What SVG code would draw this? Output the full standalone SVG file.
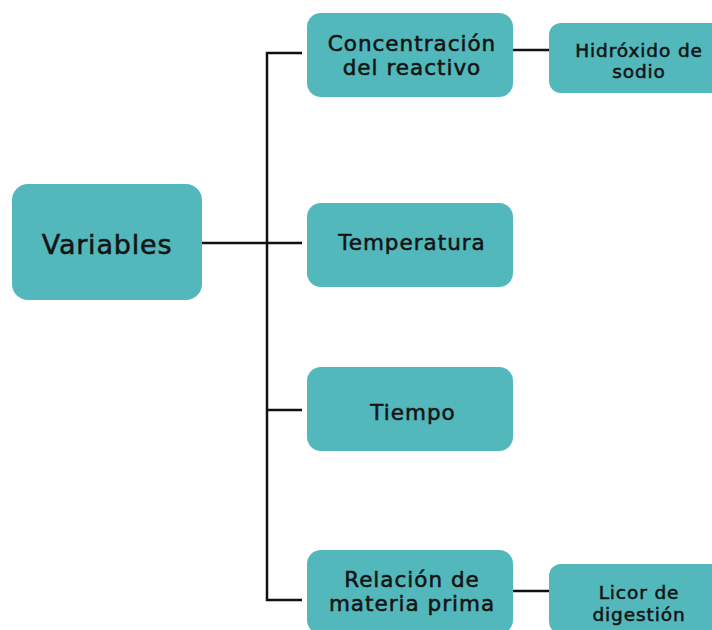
<svg xmlns="http://www.w3.org/2000/svg" width="712" height="630" viewBox="0 0 712 630">
<style>
.box{fill:#52B8BB;}
.t{font-family:"DejaVu Sans","Noto Sans",sans-serif;fill:#141414;stroke:#141414;stroke-width:0.55px;text-anchor:middle;}
.m{font-size:21.5px;letter-spacing:1px;}
.s{font-size:18.5px;letter-spacing:0.9px;}
.c{stroke:#111;stroke-width:2.5;fill:none;}
</style>
<rect width="712" height="630" fill="#fff"/>
<g id="connectors">
<path class="c" d="M202 243H302"/>
<path class="c" d="M302 53H267V600H302"/>
<path class="c" d="M267 410H302"/>
<path class="c" d="M513 50H549"/>
<path class="c" d="M513 591H549"/>
</g>
<g id="variables">
<rect class="box" x="12" y="184" width="190" height="116" rx="16"/>
<text class="t" x="107" y="254" font-size="27" letter-spacing="0.8">Variables</text>
</g>
<g id="concentracion">
<rect class="box" x="307" y="13" width="206" height="84" rx="14"/>
<text class="t m" x="412" y="51">Concentración</text>
<text class="t m" x="412" y="75">del reactivo</text>
</g>
<g id="hidroxido">
<rect class="box" x="549" y="23" width="180" height="70" rx="12"/>
<text class="t s" x="639" y="57">Hidróxido de</text>
<text class="t s" x="639" y="78">sodio</text>
</g>
<g id="temperatura">
<rect class="box" x="307" y="203" width="206" height="84" rx="14"/>
<text class="t m" x="412" y="250">Temperatura</text>
</g>
<g id="tiempo">
<rect class="box" x="307" y="367" width="206" height="84" rx="14"/>
<text class="t m" x="413" y="420">Tiempo</text>
</g>
<g id="relacion">
<rect class="box" x="307" y="550" width="206" height="84" rx="14"/>
<text class="t m" x="412" y="587">Relación de</text>
<text class="t m" x="412" y="611">materia prima</text>
</g>
<g id="licor">
<rect class="box" x="549" y="564" width="180" height="70" rx="12"/>
<text class="t s" x="639" y="599">Licor de</text>
<text class="t s" x="639" y="621">digestión</text>
</g>
</svg>
